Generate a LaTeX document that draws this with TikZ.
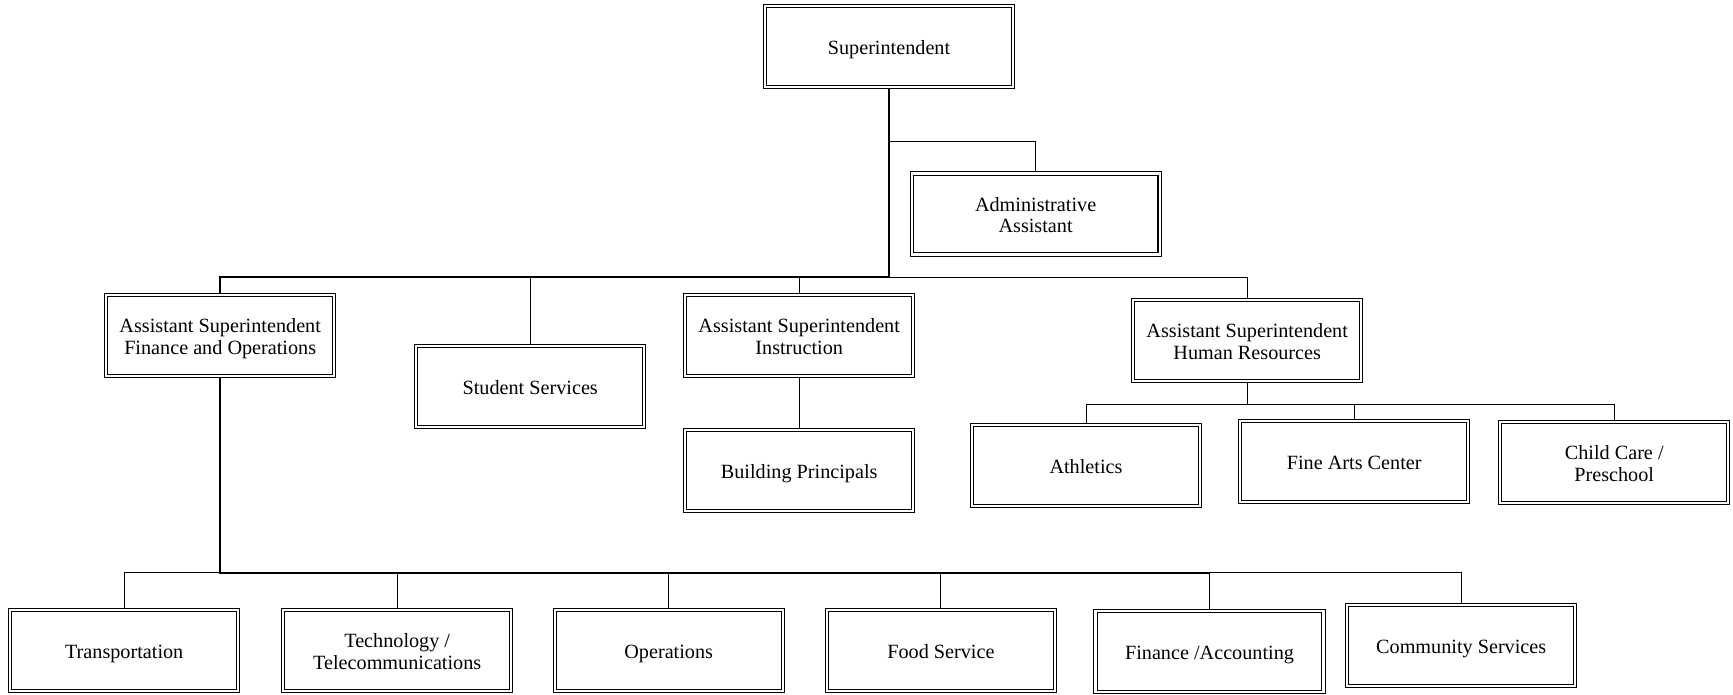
\documentclass[tikz,border=0pt]{standalone}
\usepackage{fontspec}
\setmainfont{Liberation Serif}
\usepackage{tikz}
\usetikzlibrary{backgrounds}

\tikzset{
  unit/.style={draw, double, line width=0.6pt, double distance=1.2pt, align=center,
    minimum width=4.56cm, minimum height=1.62cm, inner sep=2pt,
    font=\fontsize{11.5}{12.4}\selectfont, text height=12.2pt, text depth=3pt},
  wideunit/.style={unit, minimum width=4.96cm},
  twoline/.style={text height=24.6pt},
  link/.style={line width=0.5pt},
  spine/.style={line width=1.2pt}
}

\begin{document}
\begin{tikzpicture}[x=0.02cm, y=-0.02cm]
\useasboundingbox (0,0) rectangle (1733,694);

% top
\node[wideunit] (sup) at (889,46.5) {Superintendent};
\node[wideunit, twoline] (admin) at (1035.6,214) {Administrative\\Assistant};

% second row
\node[unit, twoline] (asfo) at (220.2,335.8) {Assistant Superintendent\\Finance and Operations};
\node[unit] (ss) at (530.2,386.2) {Student Services};
\node[unit, twoline] (asi) at (799.2,335.8) {Assistant Superintendent\\Instruction};
\node[unit] (bp) at (799.2,470.5) {Building Principals};
\node[unit, twoline] (ashr) at (1247.2,340.2) {Assistant Superintendent\\Human Resources};

\node[unit] (ath) at (1086,465.7) {Athletics};
\node[unit] (fac) at (1354.2,461.7) {Fine Arts Center};
\node[unit, twoline] (care) at (1614.2,462.2) {Child Care /\\Preschool};

% bottom row
\node[unit] (trans) at (124.2,650.5) {Transportation};
\node[unit, twoline] (tech) at (397.2,650.5) {Technology /\\Telecommunications};
\node[unit] (ops) at (668.7,650.5) {Operations};
\node[unit] (food) at (940.9,650.5) {Food Service};
\node[unit] (fin) at (1209.5,651.5) {Finance /Accounting};
\node[unit] (comm) at (1461.2,645.8) {Community Services};

\coordinate (busAdm) at (0,141.7);
\coordinate (busA) at (0,277.3);
\coordinate (busB) at (0,404);
\coordinate (busC) at (0,572.7);

\begin{scope}[on background layer]
\draw[spine] (sup.south) -- (sup.south |- busA) -| (asfo.north);
\draw[link] (sup.south |- busAdm) -| (admin.north);
\draw[link] (sup.south |- busA) -| (ashr.north);
\draw[link] (ss.north) -- (ss.north |- busA);
\draw[link] (asi.north) -- (asi.north |- busA);
\draw[link] (asi.south) -- (bp.north);

\draw[link] (ashr.south) -- (ashr.south |- busB);
\draw[link] (ath.north) |- (care.north |- busB) -- (care.north);
\draw[link] (fac.north) -- (fac.north |- busB);

\draw[spine] (asfo.south) -- (asfo.south |- busC) -- (fin.north |- busC);
\draw[link] (trans.north) |- (asfo.south |- busC);
\draw[link] (fin.north |- busC) -| (comm.north);
\foreach \n in {tech,ops,food,fin}
  \draw[link] (\n.north) -- (\n.north |- busC);
\end{scope}
\end{tikzpicture}
\end{document}
